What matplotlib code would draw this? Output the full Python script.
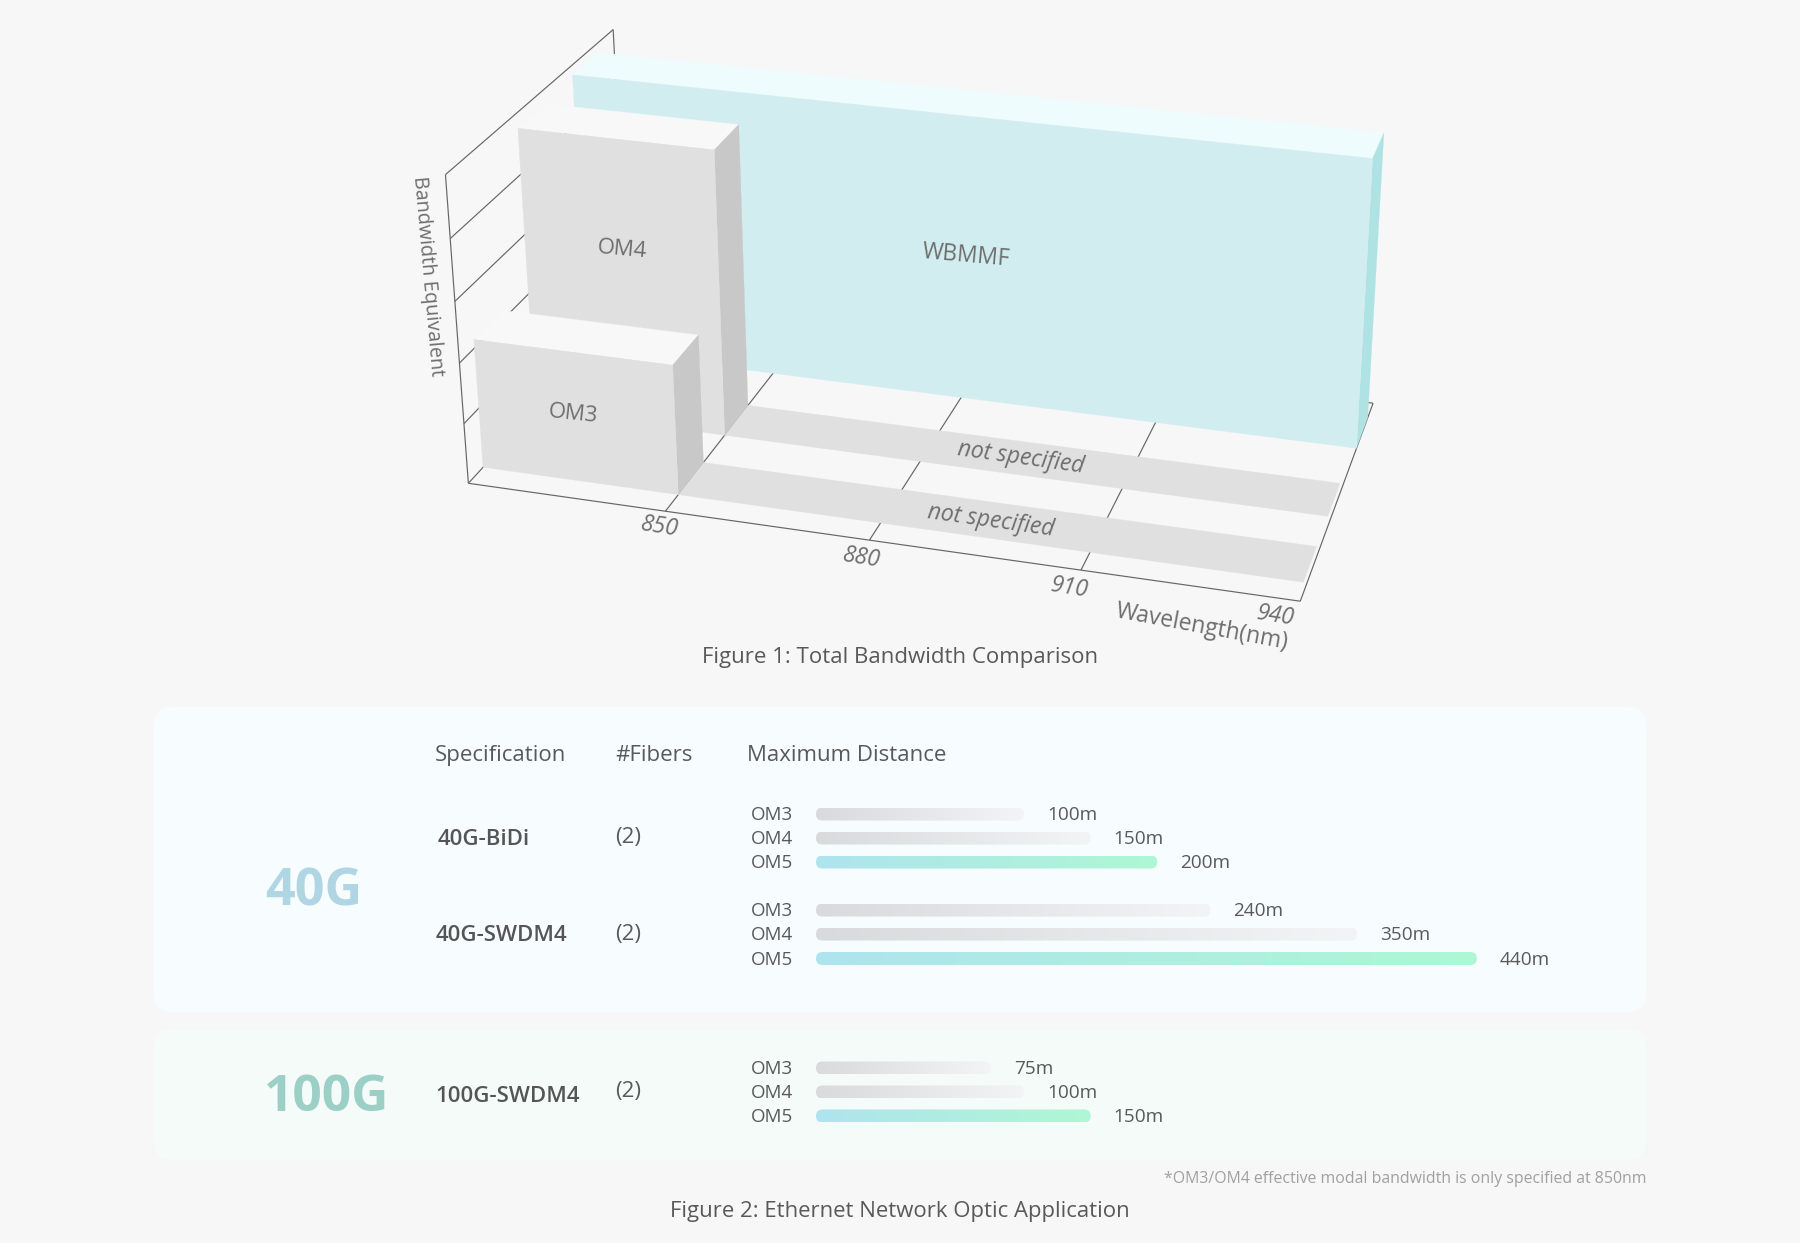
import numpy as np
import matplotlib
matplotlib.use("Agg")
import matplotlib.pyplot as plt
from matplotlib.colors import LinearSegmentedColormap
from matplotlib.patches import FancyBboxPatch, Polygon

plt.rcParams["font.family"] = ["Open Sans", "DejaVu Sans"]

# total bandwidth comparison
wave_min = 820
wave_max = 940
wave_ticks = [850, 880, 910, 940]
wave_tick_labels = ["850", "880", "910", "940"]
bw_max = 5000
bw_grid = [0, 1000, 2000, 3000, 4000, 5000]
fiber_rows = [0.5, 1.44, 2.5]
row_count = 3
row_width = 0.5
fiber_names = ["OM3", "OM4", "WBMMF"]
fiber_bw = [2140, 4750, 4790]
fiber_wave_start = [820, 820, 819.5]
fiber_wave_end = [850, 850, 940]
strip_wave_end = 939.5

# ethernet application table
spec_names = ["40G-BiDi", "40G-SWDM4", "100G-SWDM4"]
spec_fibers = ["(2)", "(2)", "(2)"]
fiber_grades = ["OM3", "OM4", "OM5"]
spec_distances = [[100, 150, 200], [240, 350, 440], [75, 100, 150]]

BG = "#f7f7f7"
TXT = "#595959"
TXT3D = "#6e6e6e"
LINE = "#666666"

# camera built from the three vanishing points of the floor/wall frame (pixels)
S = 1800 / 1568
VX = np.array([-9370 * S, -965 * S, 1.0])
VY = np.array([1680 * S, -965 * S, 1.0])
VZ = np.array([849 * S, 6362 * S, 1.0])
ORIGIN = np.array([408 * S, 421 * S, 1.0])
KX, KY, KZ = -0.0690, 0.122, -0.0433


def project(wave, row, bw):
    h = (
        KX * (wave - wave_min) / (wave_max - wave_min) * VX
        + KY * row / row_count * VY
        + KZ * bw / bw_max * VZ
        + ORIGIN
    )
    return h[0] / h[2], h[1] / h[2]


def draw_quad(ax, pts, color):
    ax.add_patch(Polygon([project(*p) for p in pts], closed=True, fc=color, ec=color, lw=0.2, zorder=2))


def draw_line(ax, a, b):
    pa, pb = project(*a), project(*b)
    ax.plot([pa[0], pb[0]], [pa[1], pb[1]], color=LINE, lw=0.85, solid_capstyle="butt", zorder=1)


def draw_box(ax, w0, w1, r0, r1, top, front, side, roof):
    draw_quad(ax, [(w0, r0, top), (w1, r0, top), (w1, r1, top), (w0, r1, top)], roof)
    draw_quad(ax, [(w1, r0, 0), (w1, r1, 0), (w1, r1, top), (w1, r0, top)], side)
    draw_quad(ax, [(w0, r0, 0), (w1, r0, 0), (w1, r0, top), (w0, r0, top)], front)


def dist_x(d):
    # bars start at a fixed stub, then grow linearly with distance
    return 890.8 + 1.332 * d


def draw_bar(ax, y, d, cmap):
    x0, x1 = 816.0, dist_x(d)
    h = 13
    clip = FancyBboxPatch(
        (x0 + h / 2, y - 0.01), x1 - x0 - h, 0.02,
        boxstyle=f"round,pad={h / 2},rounding_size={h / 2}", fc="none", ec="none",
    )
    ax.add_patch(clip)
    ramp = np.linspace(0, 1, 256).reshape(1, -1)
    im = ax.imshow(ramp, cmap=cmap, extent=(x0, x1, y + h / 2, y - h / 2), aspect="auto", zorder=3)
    im.set_clip_path(clip)
    return x1


fig = plt.figure(figsize=(18, 12.43), dpi=100, facecolor=BG)
ax = fig.add_axes([0, 0, 1, 1])
ax.set_facecolor(BG)
ax.axis("off")

# frame and grid of the 3D chart
for bw in bw_grid:
    draw_line(ax, (wave_min, 0, bw), (wave_min, row_count, bw))
draw_line(ax, (wave_min, 0, 0), (wave_min, 0, bw_max))
draw_line(ax, (wave_min, row_count, 0), (wave_min, row_count, bw_max))
draw_line(ax, (wave_min, 0, 0), (wave_max, 0, 0))
draw_line(ax, (wave_min, row_count, 0), (wave_max, row_count, 0))
for w in wave_ticks:
    draw_line(ax, (w, 0, 0), (w, row_count, 0))

# back to front so nearer boxes cover farther ones
for row, name, bw, start, end in reversed(list(zip(fiber_rows, fiber_names, fiber_bw, fiber_wave_start, fiber_wave_end))):
    r0, r1 = row - row_width / 2, row + row_width / 2
    if name == "WBMMF":
        draw_box(ax, start, end, r0, r1, bw, "#d2edf0", "#aee2e3", "#effcfe")
    else:
        draw_quad(ax, [(end, r0, 0), (strip_wave_end, r0, 0), (strip_wave_end, r1, 0), (end, r1, 0)], "#e0e0e0")
        draw_box(ax, start, end, r0, r1, bw, "#e0e0e0", "#c8c8c8", "#f8f8f8")

ax.text(573, 414, "OM3", fontsize=16, color=TXT3D, rotation=-6, ha="center", va="center", rotation_mode="anchor")
ax.text(622, 250, "OM4", fontsize=16, color=TXT3D, rotation=-5, ha="center", va="center", rotation_mode="anchor")
ax.text(966, 256, "WBMMF", fontsize=16.3, color=TXT3D, rotation=-5, ha="center", va="center", rotation_mode="anchor")
for x, y in [(1021, 458), (991, 521)]:
    ax.text(x, y, "not specified", fontsize=16.5, style="italic", color=TXT3D,
            rotation=-8, ha="center", va="center", rotation_mode="anchor")
for x, y, lab in zip([660, 862, 1070, 1276], [527, 558, 588, 616], wave_tick_labels):
    ax.text(x, y, lab, fontsize=16.5, style="italic", color=TXT3D, rotation=-9,
            ha="center", va="center", rotation_mode="anchor")
ax.text(1202, 627, "Wavelength(nm)", fontsize=16.6, color=TXT3D, rotation=-10.5,
        ha="center", va="center", rotation_mode="anchor")
ax.text(428, 276, "Bandwidth Equivalent", fontsize=14.2, color=TXT3D, rotation=-85,
        ha="center", va="center", rotation_mode="anchor")
ax.text(900, 657, "Figure 1: Total Bandwidth Comparison", fontsize=16, color=TXT, ha="center", va="center")

# table panels
ax.add_patch(FancyBboxPatch((172, 725), 1456, 269, boxstyle="round,pad=18,rounding_size=18", fc="#f7fcfe", ec="none"))
ax.add_patch(FancyBboxPatch((172, 1047), 1456, 95, boxstyle="round,pad=18,rounding_size=18", fc="#f4fbf9", ec="none"))

for x, lab in zip([435, 615, 747], ["Specification", "#Fibers", "Maximum Distance"]):
    ax.text(x, 755, lab, fontsize=16, color=TXT, ha="left", va="center")

ax.text(265, 892, "40G", fontsize=37.5, weight="bold", color="#b0d6e4", ha="left", va="center")
ax.text(264, 1098, "100G", fontsize=37, weight="bold", color="#9ccfc6", ha="left", va="center")

gray = LinearSegmentedColormap.from_list("gray_bar", ["#d8dadb", "#f3f4f5"])
mint = LinearSegmentedColormap.from_list("mint_bar", ["#aee4ee", "#aef7d4"])
row_ys = [[814, 838, 862], [910, 934, 958.5], [1068, 1092, 1116]]
spec_ys = [839, 935, 1097]
spec_xs = [438, 436, 435]
fiber_ys = [837, 934, 1092]

for name, n, sx, sy, fy, ys, dists in zip(spec_names, spec_fibers, spec_xs, spec_ys, fiber_ys, row_ys, spec_distances):
    ax.text(sx, sy, name, fontsize=16, weight="semibold", color="#555555", ha="left", va="center")
    ax.text(615, fy, n, fontsize=16, color=TXT, ha="left", va="center")
    for grade, y, d in zip(fiber_grades, ys, dists):
        ax.text(751, y + 1, grade, fontsize=13.5, color=TXT, ha="left", va="center")
        x1 = draw_bar(ax, y, d, mint if grade == "OM5" else gray)
        ax.text(x1 + 23, y + 1, f"{d}m", fontsize=13.7, color=TXT, ha="left", va="center")

ax.text(1647, 1179, "*OM3/OM4 effective modal bandwidth is only specified at 850nm", fontsize=11.4,
        color="#a0a0a0", ha="right", va="center")
ax.text(900, 1212, "Figure 2: Ethernet Network Optic Application", fontsize=15.9, color=TXT, ha="center", va="center")

ax.set_xlim(0, 1800)
ax.set_ylim(1243, 0)
fig.savefig("out.png", dpi=100, facecolor=BG)
